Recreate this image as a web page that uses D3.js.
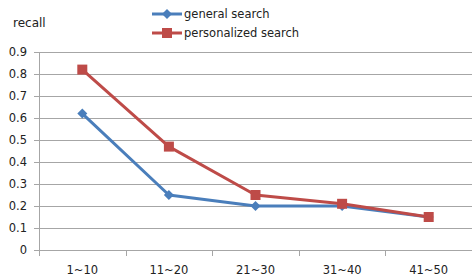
<!DOCTYPE html>
<html>
<head>
<meta charset="utf-8">
<script src="https://cdn.jsdelivr.net/npm/d3@7"></script>
<style>
  html, body { margin: 0; padding: 0; background: #fff; }
  svg { display: block; font-family: "DejaVu Sans", Verdana, sans-serif; }
</style>
</head>
<body>
<div id="chart"></div>
<script>
const categories = ['1~10', '11~20', '21~30', '31~40', '41~50'];
const generalSearch = [0.62, 0.25, 0.20, 0.20, 0.15];
const personalizedSearch = [0.82, 0.47, 0.25, 0.21, 0.15];
const yTicks = [0, 0.1, 0.2, 0.3, 0.4, 0.5, 0.6, 0.7, 0.8, 0.9];

const W = 472, H = 277;
const margin = { top: 52, right: 0, bottom: 27, left: 39 };

const svg = d3.select('#chart').append('svg')
  .attr('width', W)
  .attr('height', H);

const x = d3.scaleBand()
  .domain(categories)
  .range([margin.left, W - margin.right]);

const y = d3.scaleLinear()
  .domain([0, 0.9])
  .range([H - margin.bottom, margin.top]);

// Gridlines
svg.append('g')
  .selectAll('line')
  .data(yTicks)
  .join('line')
  .attr('x1', margin.left - 5)
  .attr('x2', W)
  .attr('y1', d => Math.round(y(d)) + 0.5)
  .attr('y2', d => Math.round(y(d)) + 0.5)
  .attr('stroke', '#a6a6a6')
  .attr('stroke-width', 1);

// Y labels
svg.append('g')
  .selectAll('text')
  .data(yTicks)
  .join('text')
  .attr('x', 27)
  .attr('y', d => y(d) + 4)
  .attr('text-anchor', 'end')
  .attr('font-size', 11.5)
  .attr('fill', '#222')
  .text(d => d === 0 ? '0' : d.toFixed(1));

// Y axis line
svg.append('line')
  .attr('x1', margin.left + 0.5).attr('x2', margin.left + 0.5)
  .attr('y1', margin.top).attr('y2', y(0))
  .attr('stroke', '#a6a6a6');

// X axis ticks at band boundaries
const boundaries = categories.map(c => x(c)).concat([x(categories[categories.length - 1]) + x.bandwidth()]);
svg.append('g')
  .selectAll('line')
  .data(boundaries)
  .join('line')
  .attr('x1', d => Math.round(d) + 0.5)
  .attr('x2', d => Math.round(d) + 0.5)
  .attr('y1', y(0))
  .attr('y2', y(0) + 6)
  .attr('stroke', '#a6a6a6');

// X labels
svg.append('g')
  .selectAll('text')
  .data(categories)
  .join('text')
  .attr('x', d => x(d) + x.bandwidth() / 2)
  .attr('y', H - 3)
  .attr('text-anchor', 'middle')
  .attr('font-size', 11.5)
  .attr('fill', '#222')
  .text(d => d);

// Axis title
svg.append('text')
  .attr('x', 13)
  .attr('y', 27)
  .attr('font-size', 12)
  .attr('fill', '#222')
  .text('recall');

const line = d3.line()
  .x((d, i) => x(categories[i]) + x.bandwidth() / 2)
  .y(d => y(d));

const series = [
  { name: 'general search', values: generalSearch, color: '#4a7ebb', marker: 'diamond' },
  { name: 'personalized search', values: personalizedSearch, color: '#be4b48', marker: 'square' }
];

function drawMarker(g, type, color, cx, cy) {
  if (type === 'diamond') {
    g.append('path')
      .attr('d', `M${cx},${cy - 5}L${cx + 5},${cy}L${cx},${cy + 5}L${cx - 5},${cy}Z`)
      .attr('fill', color);
  } else {
    g.append('rect')
      .attr('x', cx - 5).attr('y', cy - 5)
      .attr('width', 10).attr('height', 10)
      .attr('fill', color);
  }
}

series.forEach(s => {
  const g = svg.append('g');
  g.append('path')
    .datum(s.values)
    .attr('d', line)
    .attr('fill', 'none')
    .attr('stroke', s.color)
    .attr('stroke-width', 3)
    .attr('stroke-linejoin', 'round');
  s.values.forEach((v, i) => {
    drawMarker(g, s.marker, s.color, x(categories[i]) + x.bandwidth() / 2, y(v));
  });
});

// Legend
const legend = svg.append('g');
series.forEach((s, i) => {
  const ly = 14 + i * 19;
  legend.append('line')
    .attr('x1', 152).attr('x2', 182)
    .attr('y1', ly).attr('y2', ly)
    .attr('stroke', s.color)
    .attr('stroke-width', 3);
  drawMarker(legend, s.marker, s.color, 167, ly);
  legend.append('text')
    .attr('x', 184)
    .attr('y', ly + 4)
    .attr('font-size', 11.5)
    .attr('fill', '#222')
    .text(s.name);
});
</script>
</body>
</html>
